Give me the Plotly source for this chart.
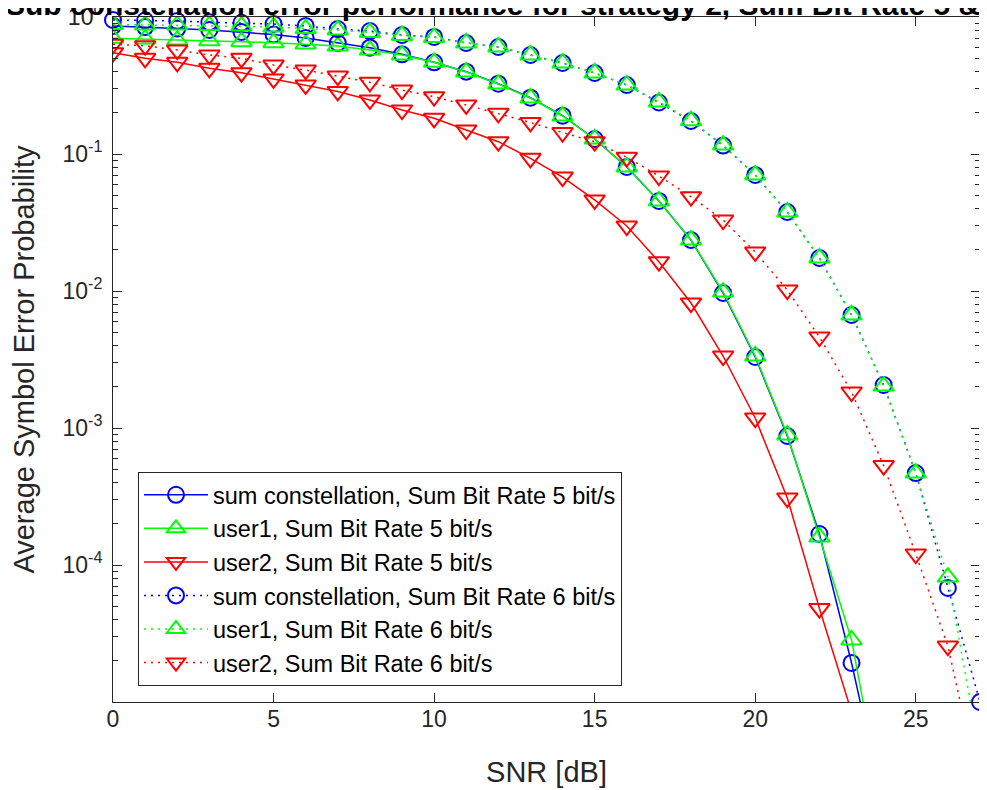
import plotly.graph_objects as go

snr = list(range(28))

sum5 = [0.860, 0.845, 0.824, 0.804, 0.777, 0.745, 0.703, 0.646, 0.597, 0.534,
        0.467, 0.399, 0.326, 0.2576, 0.1903, 0.1287, 0.0804, 0.0454, 0.02357, 0.00967,
        0.003298, 0.000874, 1.684e-4, 1.927e-5, 1.71e-6]
user1_5 = [0.699, 0.691, 0.679, 0.671, 0.660, 0.649, 0.635, 0.614, 0.574, 0.528,
           0.467, 0.397, 0.324, 0.2563, 0.1894, 0.1287, 0.0804, 0.0454, 0.02357, 0.00983,
           0.003354, 0.000889, 1.601e-4, 2.836e-5, 1.57e-6]
user2_5 = [0.549, 0.4995, 0.467, 0.422, 0.392, 0.353, 0.319, 0.286, 0.248, 0.2095,
           0.1823, 0.1497, 0.1230, 0.0930, 0.0679, 0.0462, 0.0298, 0.01636, 0.00817, 0.003354,
           0.001183, 3.084e-4, 4.81e-5, 8.45e-6]
sum6 = [0.951, 0.943, 0.935, 0.915, 0.907, 0.889, 0.860, 0.817, 0.790, 0.739,
        0.715, 0.646, 0.604, 0.528, 0.4615, 0.3901, 0.3189, 0.2376, 0.1741, 0.1153,
        0.0703, 0.03772, 0.01741, 0.00668, 0.00206, 4.69e-4, 6.8e-5, 1.0e-5]
user1_6 = [0.882, 0.874, 0.874, 0.867, 0.860, 0.845, 0.824, 0.804, 0.771, 0.733,
           0.709, 0.646, 0.604, 0.528, 0.4615, 0.3901, 0.3189, 0.2397, 0.1750, 0.1163,
           0.0703, 0.03772, 0.01741, 0.00668, 0.002025, 4.69e-4, 8.17e-5, 4.1e-6]
user2_6 = [0.632, 0.617, 0.574, 0.528, 0.4995, 0.446, 0.410, 0.371, 0.334, 0.293,
           0.262, 0.228, 0.198, 0.170, 0.1435, 0.1230, 0.0946, 0.0691, 0.0488, 0.03298,
           0.01927, 0.01017, 0.004615, 0.001831, 5.32e-4, 1.203e-4, 2.56e-5, 2.24e-6]

names = ["sum constellation, Sum Bit Rate 5 bit/s", "user1, Sum Bit Rate 5 bit/s",
         "user2, Sum Bit Rate 5 bit/s", "sum constellation, Sum Bit Rate 6 bit/s",
         "user1, Sum Bit Rate 6 bit/s", "user2, Sum Bit Rate 6 bit/s"]
series = [sum5, user1_5, user2_5, sum6, user1_6, user2_6]
colors = ["#0000FF", "#00FF00", "#FF0000", "#0000FF", "#00FF00", "#FF0000"]
symbols = ["circle-open", "triangle-up-open", "triangle-down-open"] * 2
sizes = [16, 18, 18] * 2
dashes = ["solid"] * 3 + ["2px,5px"] * 3
clips = [True, True, True, False, True, True]

ytickvals = [1e-4, 1e-3, 1e-2, 1e-1, 1]
yticktext = ["10<sup>-4</sup>", "10<sup>-3</sup>", "10<sup>-2</sup>", "10<sup>-1</sup>", "10<sup>0</sup>"]
xtickvals = [0, 5, 10, 15, 20, 25]
title_text = "Sub constellation error performance for strategy 2, Sum Bit Rate 5 & 6 bit/s"

fig = go.Figure()
for name, ys, c, sym, sz, d, cl in zip(names, series, colors, symbols, sizes, dashes, clips):
    fig.add_trace(go.Scatter(
        x=snr[:len(ys)], y=ys, name=name, mode="lines+markers",
        line=dict(color=c, width=1.5, dash=d),
        marker=dict(symbol=sym, size=sz, color=c, line=dict(color=c, width=2)),
        cliponaxis=cl,
    ))

axcol = "#262626"
font = "Liberation Sans, Arial, sans-serif"
# page body adds an 8px offset; figure sized to fit the window
L, R, T, B = 105, 7, 9, 88
fig.update_layout(
    width=979, height=782,
    margin=dict(l=L, r=R, t=T, b=B),
    paper_bgcolor="white", plot_bgcolor="white",
    font=dict(family=font, color=axcol, size=23),
    showlegend=True,
    legend=dict(x=(130 - L) / 867, y=(694 - 464) / 685, xanchor="left", yanchor="top",
                bgcolor="white", bordercolor=axcol, borderwidth=1,
                font=dict(family=font, size=23.5, color="black"), itemwidth=64),
    annotations=[dict(text="<b>" + title_text + "</b>", xref="paper", yref="paper",
                      x=(-5 - L) / 867, y=1 + (T + 3.5) / 685, xanchor="left", yanchor="middle",
                      showarrow=False, font=dict(family=font, size=30, color="black"))],
)
fig.update_xaxes(
    range=[0, 27], tickvals=xtickvals, ticks="inside", ticklen=9, tickcolor=axcol,
    showline=True, linecolor=axcol, linewidth=1, mirror="ticks", showgrid=False, zeroline=False,
    title=dict(text="SNR [dB]", font=dict(size=29, color=axcol), standoff=31),
    tickfont=dict(size=23, color=axcol), automargin=False, ticklabelstandoff=-4,
    ticklabeloverflow="allow",
)
fig.update_yaxes(
    type="log", range=[-5, 0], tickvals=ytickvals, ticktext=yticktext,
    ticks="inside", ticklen=9, tickcolor=axcol,
    minor=dict(ticks="inside", ticklen=5, tickcolor=axcol, dtick="D1", showgrid=False),
    showline=True, linecolor=axcol, linewidth=1, mirror="ticks", showgrid=False, zeroline=False,
    title=dict(text="Average Symbol Error Probability", font=dict(size=29, color=axcol), standoff=23),
    tickfont=dict(size=23, color=axcol), automargin=False, ticklabelstandoff=5,
    ticklabeloverflow="allow",
)
fig.write_html("out.html")
